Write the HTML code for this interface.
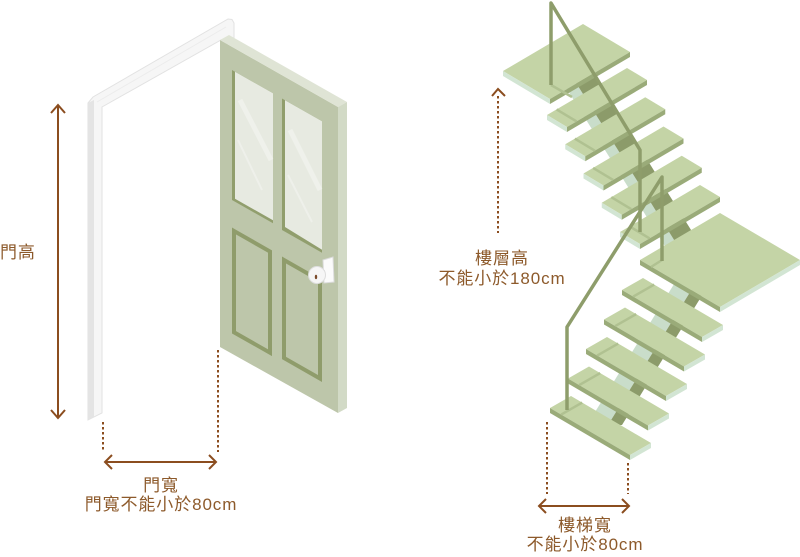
<!DOCTYPE html>
<html><head><meta charset="utf-8"><style>
html,body{margin:0;padding:0;background:#fff;}
svg{display:block;}
text{font-family:"Liberation Sans","Noto Sans CJK TC",sans-serif;font-size:17px;fill:#8d5a2b;letter-spacing:0.9px;}
</style></head><body>
<svg width="800" height="557" viewBox="0 0 800 557" xmlns="http://www.w3.org/2000/svg">
<!-- Door frame -->
<polygon points="88,103 93,97 228,19 232,19.5 234,23 234,44 221,44 221,40 102,107 102,413 88,420" fill="#f6f6f6" stroke="#e2e2e2" stroke-width="1"/>
<polygon points="88,103 94,100 94,417 88,420" fill="#e4e4e4"/>
<polyline points="97,102 226,27" fill="none" stroke="#ececec" stroke-width="1"/>
<!-- Door -->
<polygon points="220,40 338,107 338,413 220,347" fill="#bdc6aa"/>
<polygon points="220,40 229,35 347,102 338,107" fill="#dfe4d5"/>
<polygon points="338,107 347,102 347,408 338,413" fill="#d2dac6"/>
<!-- windows -->
<polygon points="232,70 273,93.3 273,223.3 232,200" fill="#919e6d"/>
<polygon points="235,71.7 273,93.3 273,220.3 235,198.7" fill="#e7eae1"/>
<line x1="240" y1="100" x2="271" y2="160" stroke="#eff1eb" stroke-width="5"/>
<line x1="238" y1="140" x2="262" y2="190" stroke="#eef0ea" stroke-width="2"/>
<polygon points="282,98.5 322,121.2 322,252.7 282,230" fill="#919e6d"/>
<polygon points="285,100.2 322,121.2 322,249.7 285,227" fill="#e7eae1"/>
<line x1="290" y1="130" x2="320" y2="190" stroke="#eff1eb" stroke-width="5"/>
<line x1="288" y1="175" x2="312" y2="222" stroke="#eef0ea" stroke-width="2"/>
<!-- panels -->
<polygon points="234,231 270,251.5 270,352.7 234,332.3" fill="#bdc6aa" stroke="#8f9c6b" stroke-width="4"/>
<polygon points="284,260 320,280.5 320,378.5 284,358" fill="#bdc6aa" stroke="#8f9c6b" stroke-width="4"/>
<!-- knob -->
<polygon points="323,260 333,257 334,282 324,283" fill="#fbfbfb" stroke="#dcdcdc" stroke-width="1"/>
<rect x="317" y="270" width="8" height="9" fill="#e4e4e4"/>
<circle cx="317" cy="275" r="8.5" fill="#f6f6f6" stroke="#dedede" stroke-width="1"/>
<path d="M322,268 A8.5,8.5 0 0 1 320,283 A7,8 0 0 0 322,268 Z" fill="#dadada"/>
<ellipse cx="316" cy="277" rx="1.2" ry="2.2" fill="#7a4a2a"/>

<!-- Door height arrow -->
<line x1="58" y1="105" x2="58" y2="418" stroke="#8b4d1f" stroke-width="2"/>
<polyline points="51,113 58,105 65,113" fill="none" stroke="#8b4d1f" stroke-width="2"/>
<polyline points="51,410 58,418 65,410" fill="none" stroke="#8b4d1f" stroke-width="2"/>
<text x="0" y="258">門高</text>
<!-- door width -->
<line x1="103" y1="422" x2="103" y2="452" stroke="#8b4d1f" stroke-width="2" stroke-dasharray="2.5 2.5"/>
<line x1="218" y1="350" x2="218" y2="452" stroke="#8b4d1f" stroke-width="2" stroke-dasharray="2.5 2.5"/>
<line x1="105" y1="462" x2="216" y2="462" stroke="#8b4d1f" stroke-width="2"/>
<polyline points="112,455 105,462 112,469" fill="none" stroke="#8b4d1f" stroke-width="2"/>
<polyline points="209,455 216,462 209,469" fill="none" stroke="#8b4d1f" stroke-width="2"/>
<text x="161" y="491" text-anchor="middle">門寬</text>
<text x="161" y="510" text-anchor="middle">門寬不能小於80cm</text>

<!-- Stringers -->
<polygon points="548.8,60 561.8,60 692.8,270 679.8,270" fill="#c9ddca"/>
<polygon points="561.8,60 585,60 716,270 692.8,270" fill="#8c9b6a"/>
<polygon points="692,255 713,255 608,425 587,425" fill="#c9ddca"/>
<polygon points="713,255 727,255 622,425 608,425" fill="#8c9b6a"/>

<!-- top landing -->
<g>
<polygon points="503,71 583,24 630,52 550,99" fill="#c4d4a6"/>
<polygon points="503,71 550,99 550,104 503,76" fill="#d2e5d3"/>
<polygon points="550,99 630,52 630,57 550,104" fill="#9aab79"/>
<line x1="551" y1="85" x2="572" y2="97" stroke="#b0c191" stroke-width="2.5"/>
</g>
<!-- upper steps -->
<g stroke-width="2.5">
<polygon points="547,115 627,68 647,80 567,127" fill="#c4d4a6"/>
<polygon points="547,115 567,127 567,132 547,120" fill="#d2e5d3"/>
<polygon points="567,127 647,80 647,85 567,132" fill="#9aab79"/>
<line x1="556.6" y1="109.4" x2="576.6" y2="121.4" stroke="#b0c191"/>

<polygon points="565.25,144.25 645.25,97.25 665.25,109.25 585.25,156.25" fill="#c4d4a6"/>
<polygon points="565.25,144.25 585.25,156.25 585.25,161.25 565.25,149.25" fill="#d2e5d3"/>
<polygon points="585.25,156.25 665.25,109.25 665.25,114.25 585.25,161.25" fill="#9aab79"/>
<line x1="574.85" y1="138.65" x2="594.85" y2="150.65" stroke="#b0c191"/>

<polygon points="583.5,173.5 663.5,126.5 683.5,138.5 603.5,185.5" fill="#c4d4a6"/>
<polygon points="583.5,173.5 603.5,185.5 603.5,190.5 583.5,178.5" fill="#d2e5d3"/>
<polygon points="603.5,185.5 683.5,138.5 683.5,143.5 603.5,190.5" fill="#9aab79"/>
<line x1="593.1" y1="167.9" x2="613.1" y2="179.9" stroke="#b0c191"/>

<polygon points="601.75,202.75 681.75,155.75 701.75,167.75 621.75,214.75" fill="#c4d4a6"/>
<polygon points="601.75,202.75 621.75,214.75 621.75,219.75 601.75,207.75" fill="#d2e5d3"/>
<polygon points="621.75,214.75 701.75,167.75 701.75,172.75 621.75,219.75" fill="#9aab79"/>
<line x1="611.35" y1="197.15" x2="631.35" y2="209.15" stroke="#b0c191"/>

<polygon points="620,232 700,185 720,197 640,244" fill="#c4d4a6"/>
<polygon points="620,232 640,244 640,249 620,237" fill="#d2e5d3"/>
<polygon points="640,244 720,197 720,202 640,249" fill="#9aab79"/>
<line x1="629.6" y1="226.4" x2="649.6" y2="238.4" stroke="#b0c191"/>
</g>
<!-- middle landing -->
<polygon points="640,260 720,213 800,260 720,307" fill="#c4d4a6"/>
<polygon points="640,260 720,307 720,312 640,265" fill="#9aab79"/>
<polygon points="720,307 800,260 800,265 720,312" fill="#d2e5d3"/>
<line x1="662" y1="260" x2="651" y2="267" stroke="#b0c191" stroke-width="2.5"/>
<!-- lower steps -->
<g stroke-width="2.5">
<polygon points="622,290 643,278 723,325 702,337" fill="#c4d4a6"/>
<polygon points="622,290 702,337 702,342 622,295" fill="#9aab79"/>
<polygon points="702,337 723,325 723,330 702,342" fill="#d2e5d3"/>
<line x1="633.2" y1="296.6" x2="654.2" y2="284.6" stroke="#b0c191"/>

<polygon points="604,319.5 625,307.5 705,354.5 684,366.5" fill="#c4d4a6"/>
<polygon points="604,319.5 684,366.5 684,371.5 604,324.5" fill="#9aab79"/>
<polygon points="684,366.5 705,354.5 705,359.5 684,371.5" fill="#d2e5d3"/>
<line x1="615.2" y1="326.1" x2="636.2" y2="314.1" stroke="#b0c191"/>

<polygon points="586,349 607,337 687,384 666,396" fill="#c4d4a6"/>
<polygon points="586,349 666,396 666,401 586,354" fill="#9aab79"/>
<polygon points="666,396 687,384 687,389 666,401" fill="#d2e5d3"/>
<line x1="597.2" y1="355.6" x2="618.2" y2="343.6" stroke="#b0c191"/>

<polygon points="568,378.5 589,366.5 669,413.5 648,425.5" fill="#c4d4a6"/>
<polygon points="568,378.5 648,425.5 648,430.5 568,383.5" fill="#9aab79"/>
<polygon points="648,425.5 669,413.5 669,418.5 648,430.5" fill="#d2e5d3"/>
<line x1="579.2" y1="385.1" x2="600.2" y2="373.1" stroke="#b0c191"/>

<polygon points="550,408 571,396 651,443 630,455" fill="#c4d4a6"/>
<polygon points="550,408 630,455 630,460 550,413" fill="#9aab79"/>
<polygon points="630,455 651,443 651,448 630,460" fill="#d2e5d3"/>
<line x1="561.2" y1="414.6" x2="582.2" y2="402.6" stroke="#b0c191"/>
</g>
<!-- railings -->
<polyline points="551,85 551,3 640,150 640,232" fill="none" stroke="#8e9d6b" stroke-width="3.5" stroke-linejoin="round"/>
<polyline points="662,261 662,177 567,327 567,410" fill="none" stroke="#8e9d6b" stroke-width="3.5" stroke-linejoin="round"/>

<!-- floor height arrow -->
<line x1="498" y1="96" x2="498" y2="233" stroke="#8b4d1f" stroke-width="2" stroke-dasharray="2.5 2.5"/>
<polyline points="492,96 498,89 505,96" fill="none" stroke="#8b4d1f" stroke-width="2"/>
<text x="502" y="264" text-anchor="middle">樓層高</text>
<text x="502" y="284" text-anchor="middle">不能小於180cm</text>
<!-- stair width -->
<line x1="547" y1="422" x2="547" y2="494" stroke="#8b4d1f" stroke-width="2" stroke-dasharray="2.5 2.5"/>
<line x1="628" y1="463" x2="628" y2="494" stroke="#8b4d1f" stroke-width="2" stroke-dasharray="2.5 2.5"/>
<line x1="539" y1="506" x2="629" y2="506" stroke="#8b4d1f" stroke-width="2"/>
<polyline points="546,499 539,506 546,513" fill="none" stroke="#8b4d1f" stroke-width="2"/>
<polyline points="622,499 629,506 622,513" fill="none" stroke="#8b4d1f" stroke-width="2"/>
<text x="585" y="531" text-anchor="middle">樓梯寬</text>
<text x="585" y="550" text-anchor="middle">不能小於80cm</text>
</svg>
</body></html>
